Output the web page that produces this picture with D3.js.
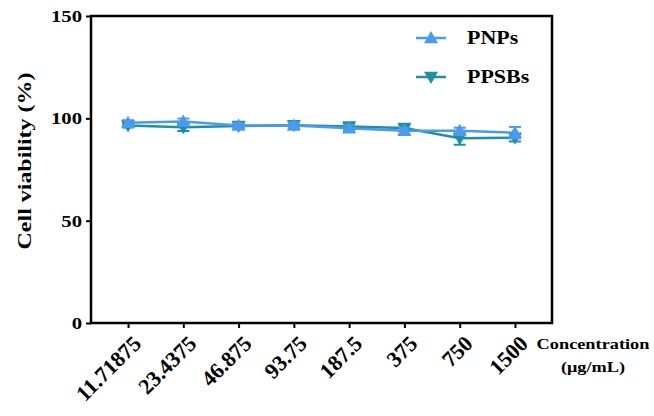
<!DOCTYPE html>
<html>
<head>
<meta charset="utf-8">
<script src="https://cdn.jsdelivr.net/npm/d3@7"></script>
<style>
  body { margin: 0; background: #fff; }
  text { font-family: "Liberation Serif", "Times New Roman", serif; font-weight: bold; fill: #000; }
</style>
</head>
<body>
<div id="chart"></div>
<script>
// values
const concentrations = ["11.71875", "23.4375", "46.875", "93.75", "187.5", "375", "750", "1500"];
const pnps = [97.9, 98.4, 96.5, 96.5, 95.2, 93.9, 93.9, 93.0];
const pnpsErr = [1.2, 1.5, 1.2, 1.5, 1.5, 1.5, 1.5, 2.8];
const ppsbs = [96.5, 95.6, 96.3, 96.6, 96.0, 95.3, 90.3, 90.5];
const ppsbsErr = [1.0, 1.8, 1.2, 1.5, 1.6, 1.4, 3.2, 1.8];
const yTicks = [0, 50, 100, 150];

// chart setup
var W = 654, H = 416;
var mLeft = 91, mRight = 552, mTop = 16, mBottom = 323;
var stretch = 1.22; // the picture's text is a bit wide

var svg = d3.select("#chart").append("svg")
  .attr("width", W)
  .attr("height", H);

var x = d3.scalePoint()
  .domain(concentrations)
  .range([mLeft, mRight])
  .padding(0.67);

var y = d3.scaleLinear()
  .domain([0, 150])
  .range([mBottom, mTop]);

// series
var series = [
  {name: "PNPs", vals: pnps, err: pnpsErr, color: "#4a9bec", shape: "up"},
  {name: "PPSBs", vals: ppsbs, err: ppsbsErr, color: "#1f8fa6", shape: "down"}
];

function tri(cx, cy, s, up) {
  if (up) return "M" + cx + "," + (cy - s) + "L" + (cx + s) + "," + (cy + s * 0.75) + "L" + (cx - s) + "," + (cy + s * 0.75) + "Z";
  return "M" + cx + "," + (cy + s) + "L" + (cx + s) + "," + (cy - s * 0.75) + "L" + (cx - s) + "," + (cy - s * 0.75) + "Z";
}

// wide horizontal text
function wideText(tx, ty, size, str, anchor) {
  return svg.append("text")
    .attr("transform", "translate(" + tx + "," + ty + ") scale(" + stretch + ",1)")
    .attr("text-anchor", anchor || "start")
    .style("font-size", size + "px")
    .text(str);
}

// draw PPSBs first so PNPs sits on top
series.slice().reverse().forEach(function(s) {
  var pts = concentrations.map((c, i) => ({c: c, v: s.vals[i], e: s.err[i]}));
  var g = svg.append("g");

  // error bars
  pts.forEach(function(d) {
    var cx = x(d.c);
    g.append("line")
      .attr("x1", cx).attr("x2", cx)
      .attr("y1", y(d.v + d.e)).attr("y2", y(d.v - d.e))
      .attr("stroke", s.color).attr("stroke-width", 2);
    [d.v + d.e, d.v - d.e].forEach(function(v) {
      g.append("line")
        .attr("x1", cx - 6).attr("x2", cx + 6)
        .attr("y1", y(v)).attr("y2", y(v))
        .attr("stroke", s.color).attr("stroke-width", 2);
    });
  });

  g.append("path")
    .datum(pts)
    .attr("fill", "none")
    .attr("stroke", s.color)
    .attr("stroke-width", 2.5)
    .attr("d", d3.line().x(d => x(d.c)).y(d => y(d.v)));

  g.selectAll("path.m")
    .data(pts)
    .enter()
    .append("path")
    .attr("class", "m")
    .attr("d", d => tri(x(d.c), y(d.v), 7, s.shape == "up"))
    .attr("fill", s.color);
});

// frame
svg.append("rect")
  .attr("x", mLeft).attr("y", mTop)
  .attr("width", mRight - mLeft).attr("height", mBottom - mTop)
  .attr("fill", "none")
  .attr("stroke", "#000")
  .attr("stroke-width", 2.5);

// Y axis
var yAxis = svg.append("g")
  .attr("transform", "translate(" + mLeft + ",0)")
  .call(d3.axisLeft(y).tickValues(yTicks).tickSize(5).tickPadding(3));
yAxis.select(".domain").remove();
yAxis.selectAll("line").attr("stroke", "#000").attr("stroke-width", 2);
yAxis.selectAll("text").remove();
yTicks.forEach(function(t) {
  wideText(mLeft - 9, y(t) + 6, 17, String(t), "end");
});

svg.append("text")
  .attr("transform", "translate(31,161) rotate(-90) scale(1.26,1)")
  .attr("text-anchor", "middle")
  .style("font-size", "19px")
  .text("Cell viability (%)");

// X axis
var xAxis = svg.append("g")
  .attr("transform", "translate(0," + mBottom + ")")
  .call(d3.axisBottom(x).tickSize(5).tickPadding(3));
xAxis.select(".domain").remove();
xAxis.selectAll("line").attr("stroke", "#000").attr("stroke-width", 2);
xAxis.selectAll("text")
  .style("font-size", "22px")
  .attr("font-family", null)
  .attr("text-anchor", "end")
  .attr("x", 0).attr("y", 0)
  .attr("dy", "0.7em")
  .attr("transform", "translate(3,11) rotate(-45)");

wideText(593, 349, 15, "Concentration", "middle");
wideText(593, 372, 15, "(μg/mL)", "middle");

// legend
series.forEach(function(s, i) {
  var ly = 38 + i * 39;
  svg.append("line")
    .attr("x1", 416).attr("x2", 446)
    .attr("y1", ly).attr("y2", ly)
    .attr("stroke", s.color).attr("stroke-width", 2.5);
  svg.append("path")
    .attr("d", tri(431, ly, 7, s.shape == "up"))
    .attr("fill", s.color);
  wideText(467, ly + 6, 18, s.name);
});
</script>
</body>
</html>
